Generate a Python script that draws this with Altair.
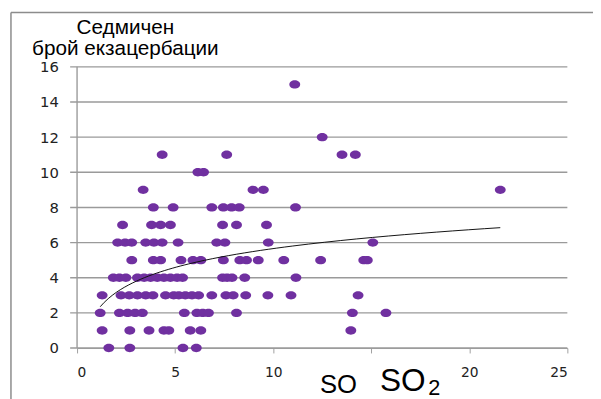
import altair as alt
import pandas as pd

# SO2 concentration (x) and weekly exacerbation count (y)
x_y0 = [1.62, 2.69, 5.40, 6.08]
x_y1 = [1.28, 2.69, 3.67, 4.43, 4.68, 5.77, 6.31, 13.96]
x_y2 = [1.18, 2.16, 2.58, 2.96, 3.33, 5.47, 6.11, 6.41, 6.70, 8.13, 14.04, 15.75]
x_y3 = [1.28, 2.24, 2.66, 3.08, 3.50, 3.87, 4.51, 4.93, 5.19, 5.52, 5.86, 6.20,
        6.87, 7.59, 7.96, 8.60, 9.73, 10.91, 14.33]
x_y4 = [1.85, 2.16, 2.49, 3.08, 3.42, 3.75, 4.09, 4.43, 4.76, 5.10, 5.38, 7.42,
        7.65, 7.90, 8.55, 11.16]
x_y5 = [2.79, 3.89, 4.26, 5.30, 5.91, 6.31, 7.46, 8.30, 8.64, 9.24, 10.54, 12.42,
        14.62, 14.80]
x_y6 = [2.07, 2.45, 2.79, 3.50, 3.92, 4.34, 5.15, 7.12, 7.54, 9.75, 15.08]
x_y7 = [2.32, 3.80, 4.26, 4.76, 7.42, 8.13, 9.66]
x_y8 = [3.89, 4.90, 6.87, 7.46, 7.88, 8.27, 11.14]
x_y9 = [3.37, 8.97, 9.50, 21.58]
x_y10 = [6.16, 6.45]
x_y11 = [4.34, 7.63, 13.51, 14.19]
x_y12 = [12.50]
x_y15 = [11.10]

levels = [0, 1, 2, 3, 4, 5, 6, 7, 8, 9, 10, 11, 12, 15]
groups = [x_y0, x_y1, x_y2, x_y3, x_y4, x_y5, x_y6, x_y7, x_y8, x_y9,
          x_y10, x_y11, x_y12, x_y15]

x_ticks = [0, 5, 10, 15, 20, 25]
y_ticks = [0, 2, 4, 6, 8, 10, 12, 14, 16]
y_title = ["Седмичен", "брой екзацербации"]
x_title_a = "SO"
x_title_b = "SO"
x_title_sub = "2"

rows = []
for lev, xs in zip(levels, groups):
    for v in xs:
        rows.append({"so2": v, "count": lev})
df = pd.DataFrame(rows)

W, H = 497, 285
ellipse = "M-1,0A1,0.77,0,1,1,1,0A1,0.77,0,1,1,-1,0Z"

xscale = alt.Scale(domain=[0, 25], nice=False, zero=True)
yscale = alt.Scale(domain=[0, 16], nice=False)

xaxis = alt.Axis(
    values=x_ticks, title=None, grid=False, domainColor="#A0A0A0",
    tickColor="#A0A0A0", tickSize=5, labelFont="DejaVu Sans",
    labelFontSize=14, labelColor="#222222", labelPadding=13,
    labelOverlap=False, labelExpr="datum.value == 15 ? '' : datum.label")
yaxis = alt.Axis(
    values=y_ticks, title=None, grid=False, domain=False, ticks=False,
    labelFont="DejaVu Sans", labelFontSize=15, labelColor="#222222",
    labelPadding=19, labelOverlap=False)

base = alt.Chart(df)

# horizontal gridlines (with their outer tick part) at every y tick
grid = alt.Chart(pd.DataFrame({"v": y_ticks})).mark_rule(
    color="#9A9A9A", strokeWidth=1.4
).encode(
    y=alt.Y("v:Q", scale=yscale, axis=yaxis),
    x=alt.value(-7), x2=alt.value(W),
)

dummy = pd.DataFrame({"a": [0]})
yline = alt.Chart(dummy).mark_rule(color="#9A9A9A", strokeWidth=1.4).encode(
    x=alt.value(0), y=alt.value(0), y2=alt.value(H))

points = base.mark_point(
    shape=ellipse, size=121, filled=True, color="#7030A0", opacity=1
).encode(
    x=alt.X("so2:Q", scale=xscale, axis=xaxis),
    y=alt.Y("count:Q", scale=yscale, axis=yaxis),
)

trend = base.transform_regression("so2", "count", method="log").mark_line(
    color="#111111", strokeWidth=1
).encode(x=alt.X("so2:Q", scale=xscale, axis=xaxis),
         y=alt.Y("count:Q", scale=yscale, axis=yaxis))

frame_top = alt.Chart(dummy).mark_rule(color="#8C8C8C", strokeWidth=1.5).encode(
    x=alt.value(-67), x2=alt.value(560), y=alt.value(-55))
frame_left = alt.Chart(dummy).mark_rule(color="#8C8C8C", strokeWidth=1.5).encode(
    x=alt.value(-67), y=alt.value(-55), y2=alt.value(400))

ytitle = alt.Chart(pd.DataFrame({"t": [y_title]})).mark_text(
    font="Liberation Sans", fontSize=21, align="center", baseline="alphabetic",
    lineHeight=21, color="#000000"
).encode(text="t", x=alt.value(49), y=alt.value(-33))

xt1 = alt.Chart(pd.DataFrame({"t": [x_title_a]})).mark_text(
    font="Liberation Sans", fontSize=26, align="center", baseline="alphabetic",
    color="#000000"
).encode(text="t", x=alt.value(265), y=alt.value(331))

xt2 = alt.Chart(pd.DataFrame({"t": [x_title_b]})).mark_text(
    font="Liberation Sans", fontSize=32, align="left", baseline="alphabetic",
    color="#000000"
).encode(text="t", x=alt.value(307), y=alt.value(329))

xt3 = alt.Chart(pd.DataFrame({"t": [x_title_sub]})).mark_text(
    font="Liberation Sans", fontSize=22, align="left", baseline="alphabetic",
    color="#000000"
).encode(text="t", x=alt.value(356), y=alt.value(333))

chart = alt.layer(grid, yline, points, trend, frame_top, frame_left,
                  ytitle, xt1, xt2, xt3).properties(
    width=W, height=H,
    autosize=alt.AutoSizeParams(type="none"),
    padding={"left": 70, "top": 57, "right": 26, "bottom": 49},
).configure_view(stroke=None)

chart.save("out.html", embed_options={"renderer": "svg", "actions": False})
